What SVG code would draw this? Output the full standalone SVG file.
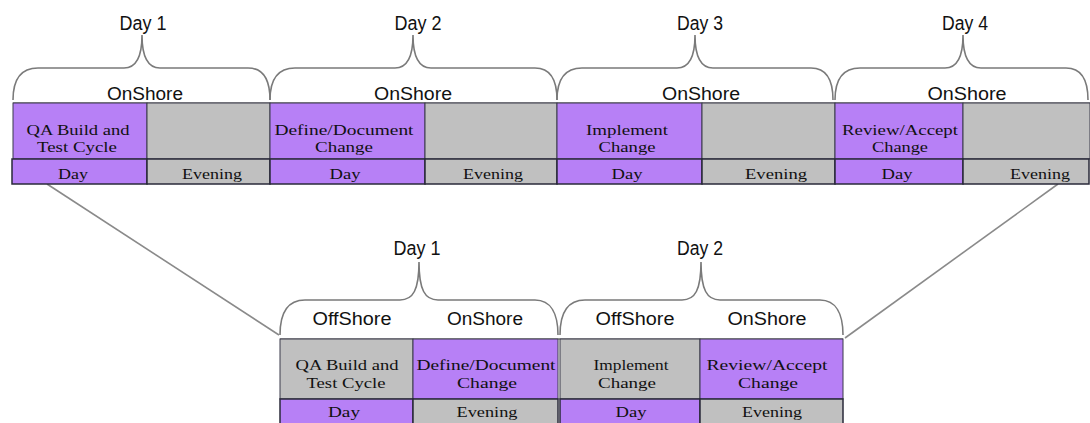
<svg xmlns="http://www.w3.org/2000/svg" width="1090" height="423" viewBox="0 0 1090 423">
<defs>
<style>
.bg{fill:#ffffff}
.p{fill:#b780f6;stroke:#3a3a4a;stroke-width:1}
.g{fill:#c0c0c0;stroke:#3a3a4a;stroke-width:1}
.pr{fill:#b780f6;stroke:#2a2a3a;stroke-width:1.5}
.gr{fill:#c0c0c0;stroke:#2a2a3a;stroke-width:1.5}
.brace{fill:none;stroke:#7a7a7a;stroke-width:1.6}
.conn{fill:none;stroke:#8a8a8a;stroke-width:1.6}
.ct{font-family:"Liberation Serif","DejaVu Serif",serif;font-size:15px;fill:#111;text-anchor:middle}
.lb{font-family:"Liberation Sans","DejaVu Sans",sans-serif;font-size:18px;fill:#111;text-anchor:middle}
.dl{font-family:"Liberation Sans","DejaVu Sans",sans-serif;font-size:20px;fill:#111;text-anchor:middle}
</style>
</defs>
<rect class="bg" x="0" y="0" width="1090" height="423"/>

<g id="connectors">
<line class="conn" x1="47" y1="184" x2="279" y2="335"/>
<line class="conn" x1="1058" y1="184" x2="845" y2="338"/>
</g>

<!-- Top braces -->
<g id="brace-top-day1">
<path class="brace" d="M13 100 C13 80 20 68 38 68 L124 68 C136 68 142 58 142 35 C142 58 148 68 160 68 L248 68 C263 68 270 80 270 100"/>
<text class="dl" x="143" y="30" textLength="47" lengthAdjust="spacingAndGlyphs">Day 1</text>
<text class="lb" x="145" y="100" textLength="76" lengthAdjust="spacingAndGlyphs">OnShore</text>
</g>
<g id="brace-top-day2">
<path class="brace" d="M270 100 C270 80 277 68 295 68 L395 68 C407 68 413 58 413 35 C413 58 419 68 431 68 L535 68 C550 68 557 80 557 100"/>
<text class="dl" x="418" y="30" textLength="47" lengthAdjust="spacingAndGlyphs">Day 2</text>
<text class="lb" x="413" y="100" textLength="78" lengthAdjust="spacingAndGlyphs">OnShore</text>
</g>
<g id="brace-top-day3">
<path class="brace" d="M557 100 C557 80 564 68 582 68 L677 68 C689 68 695 58 695 35 C695 58 701 68 713 68 L811 68 C826 68 833 80 833 100"/>
<text class="dl" x="700" y="30" textLength="46" lengthAdjust="spacingAndGlyphs">Day 3</text>
<text class="lb" x="701" y="100" textLength="78" lengthAdjust="spacingAndGlyphs">OnShore</text>
</g>
<g id="brace-top-day4">
<path class="brace" d="M835 100 C835 80 842 68 860 68 L945 68 C957 68 963 58 963 35 C963 58 969 68 981 68 L1066 68 C1081 68 1088 80 1088 100"/>
<text class="dl" x="965" y="30" textLength="46" lengthAdjust="spacingAndGlyphs">Day 4</text>
<text class="lb" x="967" y="100" textLength="79" lengthAdjust="spacingAndGlyphs">OnShore</text>
</g>

<line x1="13" y1="103" x2="1090" y2="103" stroke="#888" stroke-width="1.5"/>

<!-- Top row cells -->
<g id="top-d1-task">
<rect class="p" x="13" y="103" width="134" height="56"/>
<text class="ct" x="78" y="135" textLength="103" lengthAdjust="spacingAndGlyphs">QA Build and</text>
<text class="ct" x="77" y="152" textLength="80" lengthAdjust="spacingAndGlyphs">Test Cycle</text>
</g>
<g id="top-d1-eve"><rect class="g" x="147" y="103" width="123" height="56"/></g>
<g id="top-d1-day"><rect class="pr" x="12" y="159" width="135" height="25"/><text class="ct" x="73" y="179" textLength="30" lengthAdjust="spacingAndGlyphs">Day</text></g>
<g id="top-d1-evening"><rect class="gr" x="147" y="159" width="123" height="25"/><text class="ct" x="212" y="179" textLength="60" lengthAdjust="spacingAndGlyphs">Evening</text></g>

<g id="top-d2-task">
<rect class="p" x="270" y="103" width="155" height="56"/>
<text class="ct" x="344" y="135" textLength="139" lengthAdjust="spacingAndGlyphs">Define/Document</text>
<text class="ct" x="344" y="152" textLength="58" lengthAdjust="spacingAndGlyphs">Change</text>
</g>
<g id="top-d2-eve"><rect class="g" x="425" y="103" width="132" height="56"/></g>
<g id="top-d2-day"><rect class="pr" x="270" y="159" width="155" height="25"/><text class="ct" x="345" y="179" textLength="31" lengthAdjust="spacingAndGlyphs">Day</text></g>
<g id="top-d2-evening"><rect class="gr" x="425" y="159" width="132" height="25"/><text class="ct" x="493" y="179" textLength="60" lengthAdjust="spacingAndGlyphs">Evening</text></g>

<g id="top-d3-task">
<rect class="p" x="557" y="103" width="145" height="56"/>
<text class="ct" x="627" y="135" textLength="82" lengthAdjust="spacingAndGlyphs">Implement</text>
<text class="ct" x="627" y="152" textLength="57" lengthAdjust="spacingAndGlyphs">Change</text>
</g>
<g id="top-d3-eve"><rect class="g" x="702" y="103" width="133" height="56"/></g>
<g id="top-d3-day"><rect class="pr" x="557" y="159" width="145" height="25"/><text class="ct" x="627" y="179" textLength="31" lengthAdjust="spacingAndGlyphs">Day</text></g>
<g id="top-d3-evening"><rect class="gr" x="702" y="159" width="133" height="25"/><text class="ct" x="776" y="179" textLength="62" lengthAdjust="spacingAndGlyphs">Evening</text></g>

<g id="top-d4-task">
<rect class="p" x="835" y="103" width="128" height="56"/>
<text class="ct" x="900" y="135" textLength="116" lengthAdjust="spacingAndGlyphs">Review/Accept</text>
<text class="ct" x="900" y="152" textLength="56" lengthAdjust="spacingAndGlyphs">Change</text>
</g>
<g id="top-d4-eve"><rect class="g" x="963" y="103" width="127" height="56"/></g>
<g id="top-d4-day"><rect class="pr" x="835" y="159" width="128" height="25"/><text class="ct" x="897" y="179" textLength="31" lengthAdjust="spacingAndGlyphs">Day</text></g>
<g id="top-d4-evening"><rect class="gr" x="963" y="159" width="126" height="25"/><text class="ct" x="1040" y="179" textLength="60" lengthAdjust="spacingAndGlyphs">Evening</text></g>

<!-- Bottom braces -->
<g id="brace-bot-day1">
<path class="brace" d="M280 335 C280 314 287 300 305 300 L400 300 C413 300 419 290 419 262 C419 290 425 300 438 300 L535 300 C551 300 558 314 558 335"/>
<text class="dl" x="417" y="255" textLength="47" lengthAdjust="spacingAndGlyphs">Day 1</text>
<text class="lb" x="352" y="325" textLength="79" lengthAdjust="spacingAndGlyphs">OffShore</text>
<text class="lb" x="485" y="325" textLength="76" lengthAdjust="spacingAndGlyphs">OnShore</text>
</g>
<g id="brace-bot-day2">
<path class="brace" d="M560 335 C560 314 567 300 585 300 L682 300 C695 300 701 290 701 262 C701 290 707 300 720 300 L820 300 C836 300 843 314 843 335"/>
<text class="dl" x="700" y="255" textLength="46" lengthAdjust="spacingAndGlyphs">Day 2</text>
<text class="lb" x="635" y="325" textLength="79" lengthAdjust="spacingAndGlyphs">OffShore</text>
<text class="lb" x="767" y="325" textLength="79" lengthAdjust="spacingAndGlyphs">OnShore</text>
</g>

<line x1="280" y1="339" x2="843" y2="339" stroke="#888" stroke-width="1.5"/>

<!-- Bottom row cells -->
<g id="bot-d1-off">
<rect class="g" x="280" y="339" width="133" height="60"/>
<text class="ct" x="347" y="370" textLength="103" lengthAdjust="spacingAndGlyphs">QA Build and</text>
<text class="ct" x="346" y="388" textLength="79" lengthAdjust="spacingAndGlyphs">Test Cycle</text>
</g>
<g id="bot-d1-on">
<rect class="p" x="413" y="339" width="145" height="60"/>
<text class="ct" x="486" y="370" textLength="139" lengthAdjust="spacingAndGlyphs">Define/Document</text>
<text class="ct" x="487" y="388" textLength="60" lengthAdjust="spacingAndGlyphs">Change</text>
</g>
<g id="bot-d1-day"><rect class="pr" x="280" y="399" width="133" height="26"/><text class="ct" x="344" y="417" textLength="32" lengthAdjust="spacingAndGlyphs">Day</text></g>
<g id="bot-d1-evening"><rect class="gr" x="413" y="399" width="145" height="26"/><text class="ct" x="487" y="417" textLength="61" lengthAdjust="spacingAndGlyphs">Evening</text></g>

<g id="bot-d2-off">
<rect class="g" x="560" y="339" width="140" height="60"/>
<text class="ct" x="631" y="370" textLength="75" lengthAdjust="spacingAndGlyphs">Implement</text>
<text class="ct" x="627" y="388" textLength="58" lengthAdjust="spacingAndGlyphs">Change</text>
</g>
<g id="bot-d2-on">
<rect class="p" x="700" y="339" width="143" height="60"/>
<text class="ct" x="767" y="370" textLength="121" lengthAdjust="spacingAndGlyphs">Review/Accept</text>
<text class="ct" x="768" y="388" textLength="60" lengthAdjust="spacingAndGlyphs">Change</text>
</g>
<g id="bot-d2-day"><rect class="pr" x="560" y="399" width="140" height="26"/><text class="ct" x="631" y="417" textLength="31" lengthAdjust="spacingAndGlyphs">Day</text></g>
<g id="bot-d2-evening"><rect class="gr" x="700" y="399" width="143" height="26"/><text class="ct" x="772" y="417" textLength="60" lengthAdjust="spacingAndGlyphs">Evening</text></g>
</svg>
